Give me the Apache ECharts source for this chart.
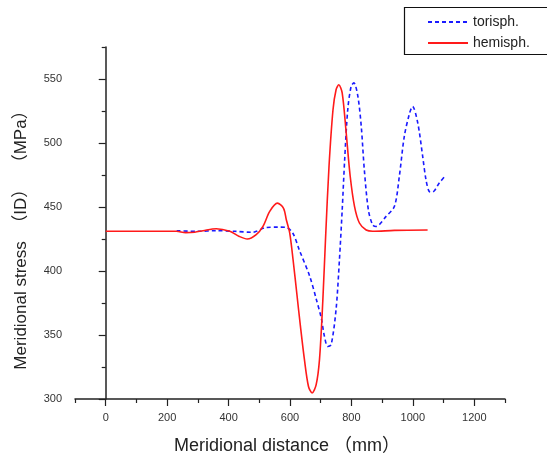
<!DOCTYPE html>
<html>
<head>
<meta charset="utf-8">
<script src="https://cdn.jsdelivr.net/npm/echarts@6/dist/echarts.min.js"></script>
<style>
html,body{margin:0;padding:0;background:#fff;}
#c{width:547px;height:460px;}
</style>
</head>
<body>
<div id="c"></div>
<script>
// Series data (x in mm, y in MPa)
const toriX = [231, 300, 360, 420, 477, 490, 523, 560, 588, 609, 631, 664, 686, 702, 712, 723, 734, 750, 761, 770, 778, 788, 799, 808, 821, 832, 842, 855, 869, 880, 913, 940, 956, 972, 989, 999, 1016, 1032, 1043, 1054, 1064, 1086, 1108];
const toriY = [431.5, 431, 431.5, 431, 430.2, 431, 434, 434.3, 434, 429.7, 416, 396, 377.6, 363, 349, 341, 342.4, 370, 409, 448, 487, 526, 544.2, 547, 536.4, 513, 479, 448, 436, 434.8, 442.7, 450.5, 474, 505, 523, 528.6, 515.6, 489.5, 471, 462, 461.7, 468.8, 475];

const hemiX = [0, 100, 200, 230, 260, 290, 317, 360, 404, 435, 461, 490, 512, 534, 559, 579, 588, 599, 610, 622, 634, 647, 660, 672, 685, 696, 707, 716, 727, 740, 750, 759, 770, 783, 796, 810, 826, 848, 869, 940, 1048];
const hemiY = [431, 431, 431, 431, 430, 430.3, 431.5, 433, 431, 427, 425, 428.4, 434.8, 446.6, 453, 449, 440, 429.7, 408.8, 382.8, 356.7, 330.7, 310, 304.7, 311, 330.8, 377.6, 427, 481.7, 526, 541.6, 545.5, 539, 507.8, 474, 450.5, 437.5, 432, 431, 431.7, 432];

// Tick values
const xMajorTicks = [0, 200, 400, 600, 800, 1000, 1200];
const xMinorTicks = [-100, 100, 300, 500, 700, 900, 1100, 1300];
const yMajorTicks = [300, 350, 400, 450, 500, 550];
const yMinorTicks = [325, 375, 425, 475, 525, 575];

const toriData = toriX.map((x, i) => [x, toriY[i]]);
const hemiData = hemiX.map((x, i) => [x, hemiY[i]]);

const FONT = '"Liberation Sans", Arial, "Noto Sans CJK SC", sans-serif';
const chart = echarts.init(document.getElementById('c'), null, {renderer: 'canvas'});

const baseX = {type: 'value', min: -100, max: 1300, splitLine: {show: false}};
const baseY = {type: 'value', min: 300, max: 575, splitLine: {show: false}};
const plain = v => String(v);

chart.setOption({
  animation: false,
  backgroundColor: '#ffffff',
  grid: {left: 75, right: 42, top: 47, bottom: 61, containLabel: false},
  xAxis: [
    Object.assign({}, baseX, {
      name: 'Meridional distance （mm）',
      nameLocation: 'middle',
      nameGap: 38,
      nameTextStyle: {fontFamily: FONT, fontSize: 18, color: '#222', padding: [0, 6, 0, 0]},
      axisLine: {show: true, lineStyle: {color: '#222', width: 1.5}},
      axisTick: {show: true, inside: false, length: 7, lineStyle: {color: '#222', width: 1.2}, customValues: xMajorTicks},
      axisLabel: {show: true, margin: 13, fontFamily: FONT, fontSize: 11, color: '#333', formatter: plain, customValues: xMajorTicks}
    }),
    Object.assign({}, baseX, {
      position: 'bottom',
      axisLine: {show: false},
      axisTick: {show: true, inside: false, length: 4, lineStyle: {color: '#222', width: 1.2}, customValues: xMinorTicks},
      axisLabel: {show: false}
    })
  ],
  yAxis: [
    Object.assign({}, baseY, {
      name: 'Meridional stress  （ID）  （MPa）',
      nameLocation: 'middle',
      nameGap: 45,
      nameTextStyle: {fontFamily: FONT, fontSize: 17, color: '#222', padding: [0, 26, 0, 0]},
      axisLine: {show: true, lineStyle: {color: '#222', width: 1.5}},
      axisTick: {show: true, inside: false, length: 7, lineStyle: {color: '#222', width: 1.2}, customValues: yMajorTicks},
      axisLabel: {show: true, margin: 13, fontFamily: FONT, fontSize: 11, color: '#333', formatter: plain, customValues: yMajorTicks}
    }),
    Object.assign({}, baseY, {
      position: 'left',
      axisLine: {show: false},
      axisTick: {show: true, inside: false, length: 4, lineStyle: {color: '#222', width: 1.2}, customValues: yMinorTicks},
      axisLabel: {show: false}
    })
  ],
  legend: {
    left: 427,
    top: 15,
    orient: 'vertical',
    itemWidth: 40,
    itemHeight: 10,
    itemGap: 7,
    padding: 0,
    itemStyle: {opacity: 0},
    textStyle: {fontFamily: FONT, fontSize: 14, color: '#222'},
    data: ['torisph.', 'hemisph.']
  },
  graphic: [{
    type: 'rect',
    shape: {x: 404.5, y: 7.5, width: 160, height: 47},
    style: {fill: 'none', stroke: '#111', lineWidth: 1.2},
    silent: true,
    z: 100
  }],
  series: [
    {
      name: 'torisph.',
      type: 'line',
      xAxisIndex: 0, yAxisIndex: 0,
      data: toriData,
      smooth: 0.3,
      showSymbol: false,
      symbol: 'none',
      lineStyle: {color: '#1a1aff', width: 1.6, type: [4, 3]},
      itemStyle: {color: '#1a1aff'}
    },
    {
      name: 'hemisph.',
      type: 'line',
      xAxisIndex: 0, yAxisIndex: 0,
      data: hemiData,
      smooth: 0.3,
      showSymbol: false,
      symbol: 'none',
      lineStyle: {color: '#ff1a1a', width: 1.6},
      itemStyle: {color: '#ff1a1a'}
    }
  ]
});
</script>
</body>
</html>
